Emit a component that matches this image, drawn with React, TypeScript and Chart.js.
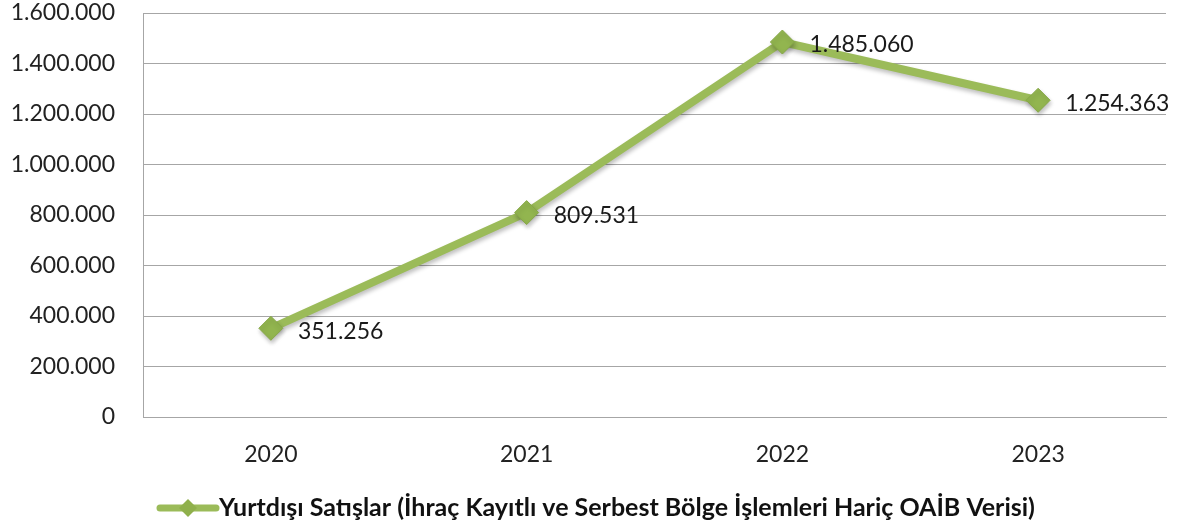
import React, { useEffect, useRef } from "react";
import { Chart, registerables } from "chart.js";

Chart.register(...registerables);

const years = ["2020", "2021", "2022", "2023"];
const sales = [351256, 809531, 1485060, 1254363];
const seriesLabel =
  "Yurtdışı Satışlar (İhraç Kayıtlı ve Serbest Bölge İşlemleri Hariç OAİB Verisi)";
const yMin = 0;
const yMax = 1600000;
const yStep = 200000;

const GREEN = "#9BBB59";
const FONT = "Lato, 'Open Sans', sans-serif";

const fmt = (v: number) =>
  Math.round(v)
    .toString()
    .replace(/\B(?=(\d{3})+(?!\d))/g, ".");

const labelsPlugin = {
  id: "customLabels",
  beforeDatasetsDraw(chart: any) {
    const ctx = chart.ctx;
    ctx.save();
    ctx.shadowColor = "rgba(0,0,0,0.25)";
    ctx.shadowBlur = 4;
    ctx.shadowOffsetX = 1;
    ctx.shadowOffsetY = 3;
  },
  afterDatasetsDraw(chart: any) {
    const ctx = chart.ctx;
    ctx.restore();
    const meta = chart.getDatasetMeta(0);
    const data = chart.data.datasets[0].data as number[];
    ctx.save();
    ctx.font = `23px ${FONT}`;
    ctx.fillStyle = "#1a1a1a";
    ctx.textAlign = "left";
    ctx.textBaseline = "middle";
    meta.data.forEach((pt: any, i: number) => {
      ctx.fillText(fmt(data[i]), pt.x + 27, pt.y + 3);
    });
    ctx.restore();

    // legend
    ctx.save();
    const ly = 508;
    ctx.strokeStyle = GREEN;
    ctx.lineWidth = 7;
    ctx.lineCap = "round";
    ctx.beginPath();
    ctx.moveTo(160, ly);
    ctx.lineTo(216, ly);
    ctx.stroke();
    ctx.fillStyle = "#8fb04c";
    ctx.beginPath();
    ctx.moveTo(188, ly - 9);
    ctx.lineTo(197, ly);
    ctx.lineTo(188, ly + 9);
    ctx.lineTo(179, ly);
    ctx.closePath();
    ctx.fill();
    ctx.font = `bold 25px ${FONT}`;
    ctx.fillStyle = "#111";
    ctx.textBaseline = "middle";
    ctx.textAlign = "left";
    ctx.fillText(chart.data.datasets[0].label, 219, ly);
    ctx.restore();
  },
};

export default function App() {
  const ref = useRef<HTMLCanvasElement | null>(null);
  useEffect(() => {
    if (!ref.current) return;
    const chart = new Chart(ref.current, {
      type: "line",
      data: {
        labels: years,
        datasets: [
          {
            label: seriesLabel,
            data: sales,
            borderColor: GREEN,
            borderWidth: 8,
            pointStyle: "rectRot",
            pointRadius: 12,
            pointBackgroundColor: "#92b54f",
            pointBorderColor: "#86a846",
            pointBorderWidth: 1,
            tension: 0,
          },
        ],
      },
      options: {
        responsive: true,
        maintainAspectRatio: false,
        animation: false,
        layout: { padding: { top: 7, right: 23, left: 0, bottom: 0 } },
        plugins: { legend: { display: false }, tooltip: { enabled: false } },
        scales: {
          x: {
            offset: true,
            grid: { display: false, drawTicks: false },
            border: { display: true, color: "#a6a6a6", width: 1 },
            ticks: { color: "#222", font: { family: FONT, size: 23 }, padding: 24 },
            afterFit(scale: any) {
              scale.height = 113;
              scale.paddingLeft = 0;
              scale.paddingRight = 0;
            },
          },
          y: {
            min: yMin,
            max: yMax,
            ticks: {
              stepSize: yStep,
              color: "#222",
              font: { family: FONT, size: 23 },
              padding: 28,
              callback: (v: any) => fmt(Number(v)),
            },
            grid: { color: "#a6a6a6", lineWidth: 1, drawTicks: false },
            border: { display: true, color: "#a6a6a6", width: 1 },
            afterFit(scale: any) {
              scale.width = 143;
              scale.paddingTop = 0;
              scale.paddingBottom = 0;
            },
          },
        },
      },
      plugins: [labelsPlugin],
    });
    return () => chart.destroy();
  }, []);
  return (
    <div style={{ position: "fixed", left: 0, top: 0, width: 1189, height: 530, background: "#fff" }}>
      <canvas ref={ref} />
    </div>
  );
}
